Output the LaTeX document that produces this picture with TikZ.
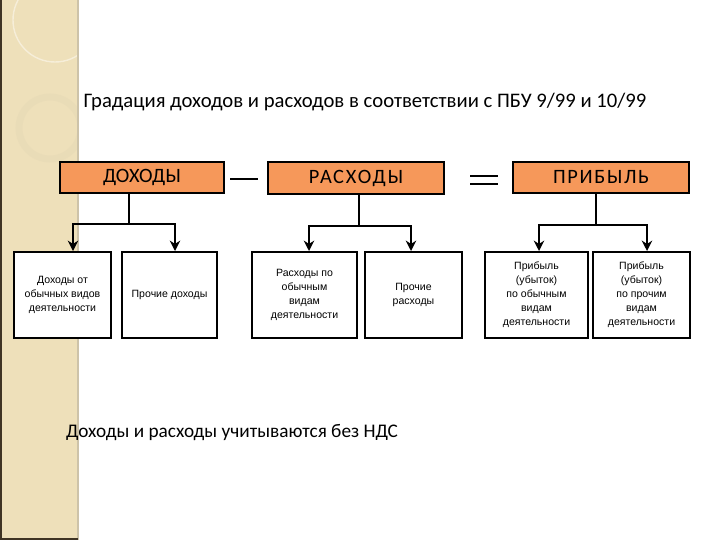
\documentclass[tikz,border=0pt]{standalone}
\usepackage{fontspec}
\setmainfont{Carlito}
\newfontfamily\leaffont{Liberation Sans}
\usetikzlibrary{arrows.meta, positioning}
\definecolor{stripbeige}{HTML}{EEE0BA}
\definecolor{stripedge}{HTML}{3F3424}
\definecolor{headorange}{HTML}{F6985A}
\tikzset{
  head/.style={draw=black, line width=1.4pt, fill=headorange, minimum height=0.78cm,
               inner sep=0pt, font=\fontsize{14.5}{16}\selectfont},
  leaf/.style={draw=black, line width=1.4pt, fill=white, align=center,
               minimum height=2.15cm, inner sep=0pt,
               font=\leaffont\fontsize{7.5}{10}\selectfont},
  link/.style={line width=1.4pt},
  flow/.style={-{Stealth[length=2.6mm, width=2.6mm]}, line width=1.4pt},
  oper/.style={line width=1.8pt},
}

\begin{document}
\begin{tikzpicture}[x=0.025cm, y=-0.025cm]
  \useasboundingbox (0,0) rectangle (720,540);
  % left strip
  \fill[stripbeige] (0,0) rectangle (78,540);
  \begin{scope}
    \clip (0,0) rectangle (78,540);
    \draw[white!45!stripbeige, line width=1pt] (55,20) circle (42);
    \draw[stripbeige!90!gray, line width=5pt, opacity=0.4] (50,128) circle (31);
  \end{scope}
  \draw[stripbeige!70!gray, line width=0.8pt] (78,0) -- (78,540);
  \draw[stripedge, line width=1.5pt] (0.75,0) -- (0.75,539.25) -- (78,539.25);

  % title
  \node (title) at (365,102) {\fontsize{14.7}{16}\selectfont Градация доходов и расходов в соответствии с ПБУ 9/99 и 10/99};

  % top row
  \node (doh) [head, minimum width=4.1cm] at (142,177.5) {ДОХОДЫ};
  \node (ras) [head, minimum width=4.4cm] at (356,178) {\addfontfeature{LetterSpace=9}РАСХОДЫ};
  \node (pri) [head, minimum width=4.4cm] at (601,177.5) {\addfontfeature{LetterSpace=8}ПРИБЫЛЬ};
  \draw[oper] (230,179) -- (258,179);
  \draw[oper] (470,176) -- (498,176);
  \draw[oper] (470,184) -- (498,184);

  % second row
  \node (d1) [leaf, minimum width=2.425cm] at (62.5,295) {Доходы от\\обычных видов\\деятельности};
  \node (d2) [leaf, minimum width=2.375cm] at (169.5,295) {Прочие доходы};
  \node (r1) [leaf, minimum width=2.625cm] at (304.5,295) {Расходы по\\обычным\\видам\\деятельности};
  \node (r2) [leaf, minimum width=2.425cm] at (413.5,295) {Прочие\\расходы};
  \node (p1) [leaf, minimum width=2.575cm] at (536.5,295) {Прибыль\\(убыток)\\по обычным\\видам\\деятельности};
  \node (p2) [leaf, minimum width=2.425cm] at (641.5,295) {Прибыль\\(убыток)\\по прочим\\видам\\деятельности};

  % connectors
  \coordinate (dm) at (129,224); \coordinate (dl) at (73,224); \coordinate (dr) at (175,224);
  \coordinate (rm) at (359,226); \coordinate (rl) at (309,226); \coordinate (rr) at (411,226);
  \coordinate (pm) at (596,225); \coordinate (pl) at (539,225); \coordinate (pr) at (647,225);
  \draw[link] (doh.south -| dm) -- (dm);
  \draw[flow] (dm) -- (dl) -- (dl |- d1.north);
  \draw[flow] (dm) -- (dr) -- (dr |- d2.north);
  \draw[link] (ras.south -| rm) -- (rm);
  \draw[flow] (rm) -- (rl) -- (rl |- r1.north);
  \draw[flow] (rm) -- (rr) -- (rr |- r2.north);
  \draw[link] (pri.south -| pm) -- (pm);
  \draw[flow] (pm) -- (pl) -- (pl |- p1.north);
  \draw[flow] (pm) -- (pr) -- (pr |- p2.north);

  % note
  \node (note) at (232,433) {\fontsize{13.7}{15}\selectfont Доходы и расходы учитываются без НДС};
\end{tikzpicture}
\end{document}
